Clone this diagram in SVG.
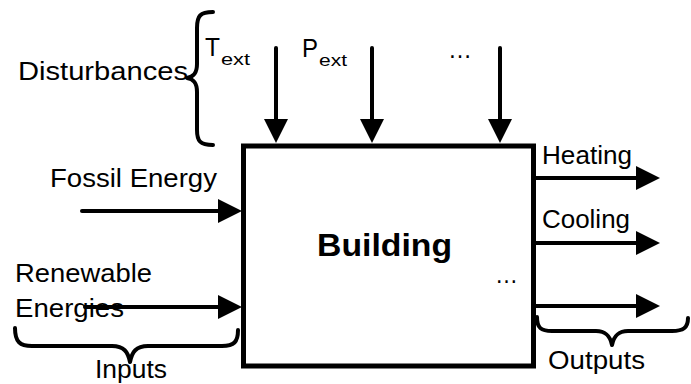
<svg xmlns="http://www.w3.org/2000/svg" width="691" height="384" viewBox="0 0 691 384">
<style>
  text { font-family: "Liberation Sans", Arial, sans-serif; font-size: 25px; fill: #000; }
  .sub { font-size: 17px; }
  .bold { font-weight: bold; font-size: 32px; }
  .conn { stroke: #000; stroke-width: 4; fill: none; stroke-linecap: round; }
  .brace { stroke: #000; stroke-width: 4; fill: none; stroke-linecap: round; stroke-linejoin: round; }
  .box { stroke: #000; stroke-width: 5; fill: #fff; }
</style>
<defs>
  <marker id="ah" markerUnits="userSpaceOnUse" markerWidth="24" markerHeight="24" refX="14" refY="12" orient="auto" viewBox="0 0 24 24">
    <path d="M0,0 L24,12 L0,24 z" fill="#000"/>
  </marker>
</defs>
<rect width="691" height="384" fill="#fff"/>

<g id="building">
  <rect class="box" x="243.5" y="146" width="290" height="220"/>
  <text class="bold" x="317" y="256" textLength="135" lengthAdjust="spacingAndGlyphs">Building</text>
  <text x="495" y="283" textLength="23" lengthAdjust="spacingAndGlyphs">…</text>
</g>

<g id="disturbances">
  <text x="18" y="80" textLength="170" lengthAdjust="spacingAndGlyphs">Disturbances</text>
  <path class="brace" d="M213,12 C200,12 197,16 197,28 L197,64 C197,74 193,77 187,78 C193,79 197,82 197,92 L197,130 C197,141 200,145 213,145"/>
</g>
<g id="t-ext">
  <text x="205" y="56" textLength="15" lengthAdjust="spacingAndGlyphs">T</text>
  <text class="sub" x="221" y="65" textLength="29" lengthAdjust="spacingAndGlyphs">ext</text>
</g>
<g id="p-ext">
  <text x="302" y="57" textLength="16" lengthAdjust="spacingAndGlyphs">P</text>
  <text class="sub" x="319" y="66" textLength="28" lengthAdjust="spacingAndGlyphs">ext</text>
</g>
<g id="more-disturbances">
  <text x="448" y="58" textLength="24" lengthAdjust="spacingAndGlyphs">…</text>
</g>

<g id="fossil">
  <text x="50" y="187" textLength="167" lengthAdjust="spacingAndGlyphs">Fossil Energy</text>
</g>
<g id="renewable">
  <text x="15" y="282" textLength="137" lengthAdjust="spacingAndGlyphs">Renewable</text>
  <text x="15" y="317" textLength="109" lengthAdjust="spacingAndGlyphs">Energies</text>
</g>
<g id="inputs">
  <path class="brace" d="M15,328 C15,342 20,346 32,346 L112,346 C124,346 128,352 130,362 C132,352 136,346 148,346 L222,346 C234,346 238,342 238,330"/>
  <text x="95" y="378" textLength="72" lengthAdjust="spacingAndGlyphs">Inputs</text>
</g>

<g id="heating">
  <text x="542" y="164" textLength="90" lengthAdjust="spacingAndGlyphs">Heating</text>
</g>
<g id="cooling">
  <text x="542" y="228" textLength="88" lengthAdjust="spacingAndGlyphs">Cooling</text>
</g>
<g id="outputs">
  <path class="brace" d="M537,317 C537,328 541,331 552,331 L596,331 C606,331 610,336 612,345 C614,336 618,331 628,331 L672,331 C683,331 688,328 688,318"/>
  <text x="548" y="369" textLength="97" lengthAdjust="spacingAndGlyphs">Outputs</text>
</g>

<g id="connectors">
  <line class="conn" x1="276" y1="48" x2="276" y2="133" marker-end="url(#ah)"/>
  <line class="conn" x1="372" y1="48" x2="372" y2="133" marker-end="url(#ah)"/>
  <line class="conn" x1="500" y1="48" x2="500" y2="133" marker-end="url(#ah)"/>
  <line class="conn" x1="82" y1="211" x2="232" y2="211" marker-end="url(#ah)"/>
  <line class="conn" x1="85" y1="307" x2="232" y2="307" marker-end="url(#ah)"/>
  <line class="conn" x1="536" y1="178" x2="650" y2="178" marker-end="url(#ah)"/>
  <line class="conn" x1="536" y1="243" x2="650" y2="243" marker-end="url(#ah)"/>
  <line class="conn" x1="536" y1="306" x2="650" y2="306" marker-end="url(#ah)"/>
</g>
</svg>
